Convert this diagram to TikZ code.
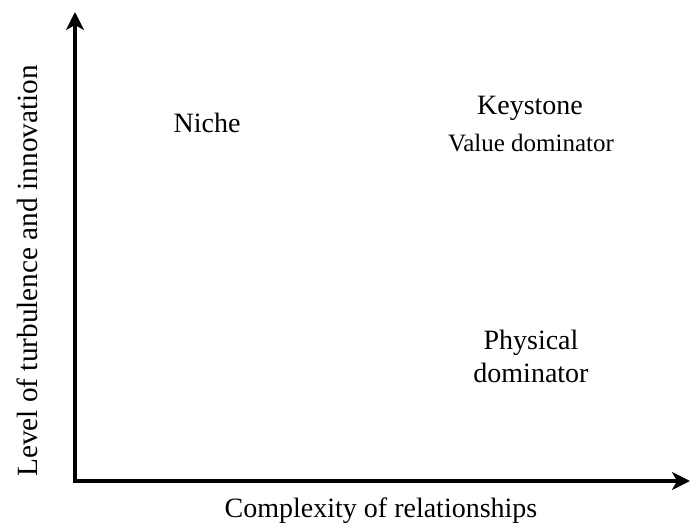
\documentclass[tikz,border=0pt]{standalone}
\usepackage{fontspec}
\setmainfont{Liberation Serif}
\usetikzlibrary{arrows.meta, positioning}

\begin{document}
\begin{tikzpicture}[x=1pt, y=1pt, line cap=butt, line join=miter,
    axis/.style={line width=3.5pt, black, -{Stealth[length=18pt, width=18pt, inset=5pt]}},
    lbl/.style={font=\fontsize{28}{33}\selectfont, align=center, inner sep=0pt},
    sublbl/.style={font=\fontsize{25}{29}\selectfont, inner sep=0pt}]
      \useasboundingbox (0,0) rectangle (690,524);

      % Ejes
      \coordinate (O) at (75,43);
      \coordinate (ytop) at (75,512);
      \coordinate (xend) at (690,43);
      \draw[axis] ([yshift=-1.75pt]O) -- (ytop);
      \draw[axis] ([xshift=-1.75pt]O) -- (xend);

      % Etiquetas de los ejes
      \node[lbl, anchor=base] (xlabel) at (381,6) {Complexity of relationships};
      \node[lbl, font=\fontsize{29.3}{34}\selectfont, rotate=90, anchor=base] (ylabel) at (37,253) {Level of turbulence and innovation};

      % Cuadrantes
      \node[lbl] (niche) at (207,401) {Niche};
      \node[lbl] (keystone) at (530,416) {Keystone};
      \node[sublbl] (value) at (531,381) {Value dominator};
      \node[lbl] (physical) at (531,168) {Physical\\dominator};
\end{tikzpicture}
\end{document}
